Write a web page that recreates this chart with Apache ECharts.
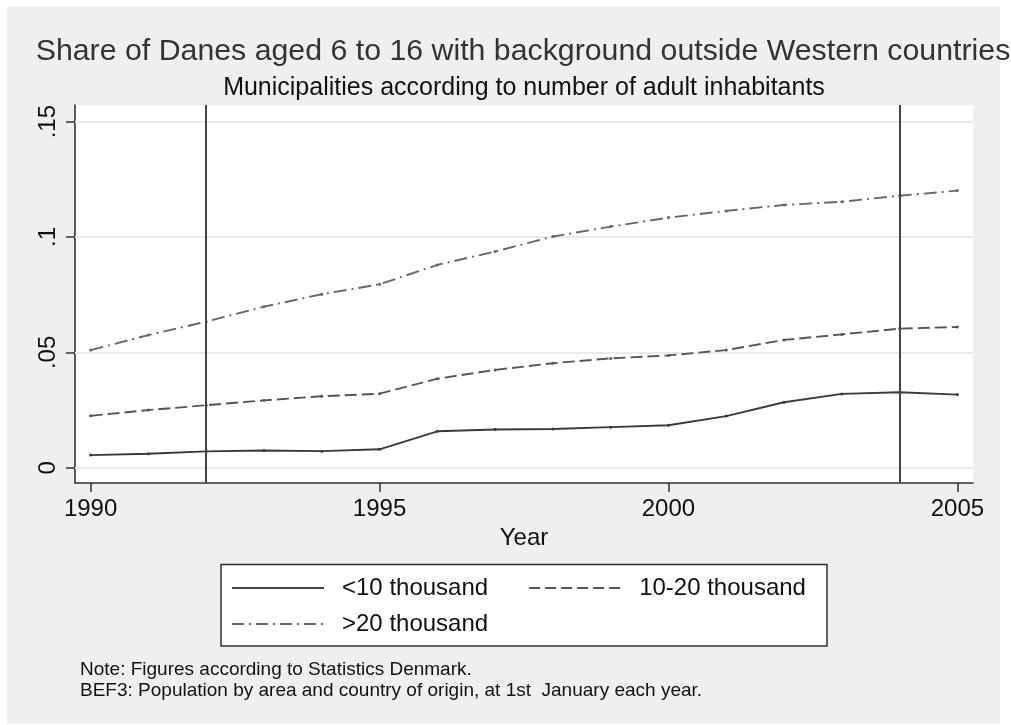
<!DOCTYPE html>
<html>
<head>
<meta charset="utf-8">
<script src="https://cdn.jsdelivr.net/npm/echarts@6/dist/echarts.min.js"></script>
<style>
html,body{margin:0;padding:0;background:#ffffff;}
#bg{position:absolute;left:7px;top:7px;width:993px;height:717px;background:#efefef;}
#chart{position:absolute;left:0;top:0;width:1011px;height:725px;}
</style>
</head>
<body>
<div id="bg"></div>
<div id="chart"></div>
<script>
// ---- Data ----
const years = [1990,1991,1992,1993,1994,1995,1996,1997,1998,1999,2000,2001,2002,2003,2004,2005];
const under10k = [0.0055,0.0061,0.0071,0.0075,0.0072,0.0080,0.0158,0.0166,0.0168,0.0176,0.0184,0.0224,0.0284,0.0320,0.0327,0.0317];
const from10to20k = [0.0225,0.0250,0.0271,0.0292,0.0310,0.0321,0.0386,0.0424,0.0453,0.0474,0.0487,0.0510,0.0554,0.0578,0.0603,0.0610];
const over20k = [0.0510,0.0575,0.0633,0.0698,0.0752,0.0795,0.0879,0.0937,0.1002,0.1045,0.1084,0.1113,0.1139,0.1153,0.1179,0.1201];
const seriesNames = ['<10 thousand','10-20 thousand','>20 thousand'];
const xTickValues = [1990,1995,2000,2005];
const yTickValues = [0,0.05,0.1,0.15];
const yTickLabels = ['0','.05','.1','.15'];
const referenceYears = [1992,2004];
const titleText = 'Share of Danes aged 6 to 16 with background outside Western countries';
const subtitleText = 'Municipalities according to number of adult inhabitants';
const xAxisName = 'Year';
const noteLines = ['Note: Figures according to Statistics Denmark.','BEF3: Population by area and country of origin, at 1st  January each year.'];

// ---- Chart ----
const FONT = '"Liberation Sans", Arial, Helvetica, sans-serif';
const chart = echarts.init(document.getElementById('chart'), null, {renderer:'canvas'});
const pairs = arr => years.map((y,i)=>[y, arr[i]]);

function yLabel(v){
  for (let i=0;i<yTickValues.length;i++){ if (Math.abs(v-yTickValues[i])<1e-9) return yTickLabels[i]; }
  return '';
}

const lineStyles = [
  {color:'#3a3a3a', width:1.9, type:'solid'},
  {color:'#555555', width:1.9, type:[12,5]},
  {color:'#666666', width:1.9, type:[13,5,2,5]}
];
const dataSets = [under10k, from10to20k, over20k];

const series = dataSets.map((arr,i)=>({
  name: seriesNames[i],
  type:'line',
  data: pairs(arr),
  symbol:'circle',
  symbolSize:3,
  showSymbol:true,
  itemStyle:{color: lineStyles[i].color},
  lineStyle: lineStyles[i],
  z: 3,
  animation:false
}));
series[0].markLine = {
  silent:true, z:1, symbol:['none','none'], animation:false,
  label:{show:false},
  lineStyle:{color:'#eaeaea', width:2, type:'solid'},
  emphasis:{disabled:true},
  data: yTickValues.map(v=>({yAxis:v}))
};
series[1].markLine = {
  silent:true, z:6, symbol:['none','none'], animation:false,
  label:{show:false},
  lineStyle:{color:'#444444', width:2, type:'solid'},
  emphasis:{disabled:true},
  data: referenceYears.map(v=>({xAxis:v}))
};

const legendItem = i => ({
  name: seriesNames[i],
  lineStyle:{color:lineStyles[i].color === '#3a3a3a' ? '#444444' : lineStyles[i].color, width:2, type: i===0 ? 'solid' : (i===1 ? [11,5] : [12,5,2,5])}
});

const legendCommon = {
  orient:'horizontal',
  padding:0,
  itemWidth:92,
  itemHeight:14,
  itemGap:40,
  selectedMode:false,
  itemStyle:{opacity:0},
  textStyle:{fontFamily:FONT, fontSize:24, color:'#111', padding:[0,0,0,13]}
};

const option = {
  backgroundColor:'transparent',
  animation:false,
  textStyle:{fontFamily:FONT},
  title:[
    {text:titleText, left:523, top:37, textAlign:'center', padding:0,
     textStyle:{fontFamily:FONT, fontSize:30.3, fontWeight:'normal', color:'#333'}},
    {text:subtitleText, left:524, top:76, textAlign:'center', padding:0,
     textStyle:{fontFamily:FONT, fontSize:25, fontWeight:'normal', color:'#111'}},
    {text:noteLines[0], left:80, top:660, padding:0,
     textStyle:{fontFamily:FONT, fontSize:19, fontWeight:'normal', color:'#111'}},
    {text:noteLines[1], left:80, top:681, padding:0,
     textStyle:{fontFamily:FONT, fontSize:19, fontWeight:'normal', color:'#111'}}
  ],
  graphic:[
    {type:'rect', shape:{x:221, y:564.5, width:606, height:81.5},
     style:{fill:'#ffffff', stroke:'#333333', lineWidth:1.5}, z:-1, silent:true}
  ],
  legend:[
    Object.assign({}, legendCommon, {left:231, top:576, data:[legendItem(0), legendItem(1)]}),
    Object.assign({}, legendCommon, {left:231, top:612, data:[legendItem(2)]})
  ],
  grid:{left:75, right:38, top:105, bottom:242, show:true, backgroundColor:'#ffffff', borderWidth:0},
  xAxis:{
    type:'value', min:1989.73, max:2005.27,
    name:xAxisName, nameLocation:'middle', nameGap:42,
    nameTextStyle:{fontFamily:FONT, fontSize:24, color:'#111'},
    axisLine:{show:true, onZero:false, lineStyle:{color:'#333', width:1.6}},
    axisTick:{show:true, customValues:xTickValues, length:9, lineStyle:{color:'#333', width:1.5}},
    axisLabel:{show:true, customValues:xTickValues, margin:14, fontFamily:FONT, fontSize:24, color:'#111',
      formatter: v => String(v)},
    splitLine:{show:false}
  },
  yAxis:{
    type:'value', min:-0.0066, max:0.1572,
    axisLine:{show:true, onZero:false, lineStyle:{color:'#333', width:1.6}},
    axisTick:{show:true, customValues:yTickValues, length:9, lineStyle:{color:'#333', width:1.5}},
    axisLabel:{show:true, customValues:yTickValues, rotate:90, margin:15, fontFamily:FONT, fontSize:24, color:'#111',
      formatter: v => yLabel(v)},
    splitLine:{show:false}
  },
  series: series
};
chart.setOption(option);
</script>
</body>
</html>
